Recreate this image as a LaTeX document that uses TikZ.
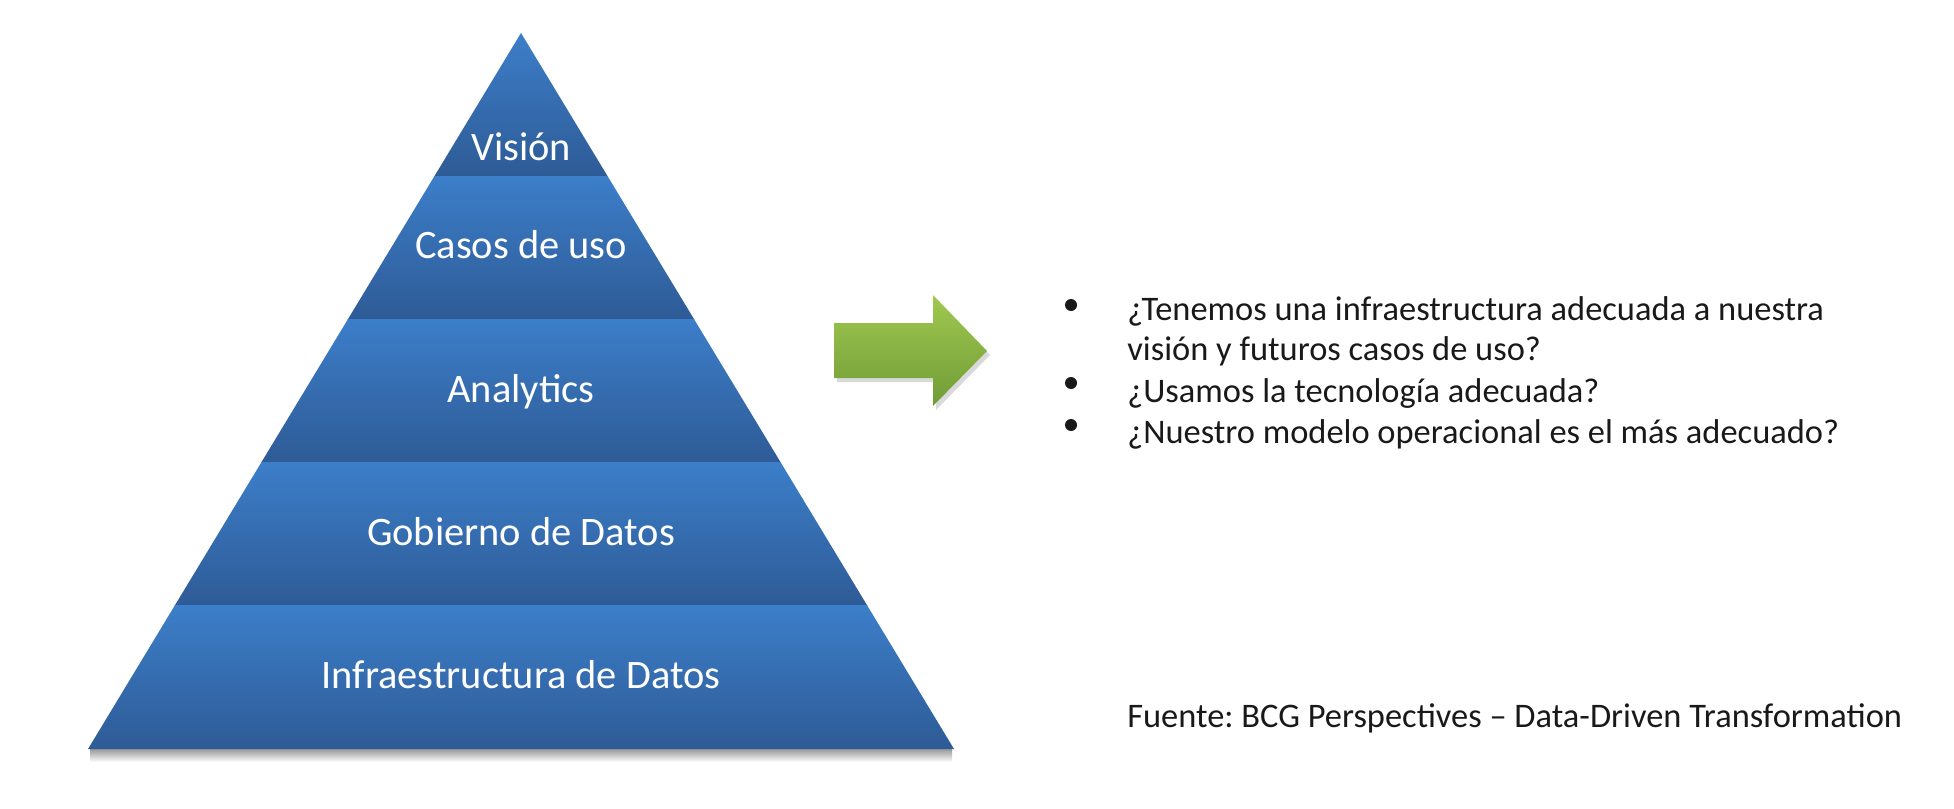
\documentclass[tikz,border=0pt]{standalone}
\usepackage{fontspec}
\setmainfont{Carlito}
\frenchspacing
\definecolor{layerTop}{RGB}{60,126,201}
\definecolor{layerBot}{RGB}{46,91,150}
\definecolor{arrowTop}{RGB}{160,200,80}
\definecolor{arrowBot}{RGB}{112,156,54}
\tikzset{
  layer/.style={text=white, font=\fontsize{23}{27}\selectfont, anchor=base, inner sep=0pt},
  question/.style={text=black!90, font=\fontsize{19.6}{23}\selectfont, anchor=base west, inner sep=0pt},
  bulletdot/.style={circle, fill=black!90, minimum size=0.24cm, inner sep=0pt},
}
\begin{document}
\begin{tikzpicture}[x=0.02cm, y=-0.02cm]
\useasboundingbox (0,0) rectangle (1954,808);

% pyramid
\coordinate (apex) at (521,33);
\coordinate (bl) at (88,749);
\coordinate (br) at (954,749);
\shade[top color=black!40, bottom color=white] (90,749) rectangle (952,762);
\begin{scope}
\clip (apex) -- (br) -- (bl) -- cycle;
\foreach \i in {0,...,4}
  \shade[top color=layerTop, bottom color=layerBot] (80,{33+143.2*\i}) rectangle (960,{33+143.2*(\i+1)});
\end{scope}

\node[layer] (vision) at (521,160) {Visión};
\node[layer] (casos) at (521,258) {Casos de uso};
\node[layer] (analytics) at (521,402) {Analytics};
\node[layer] (gobierno) at (521,545) {Gobierno de Datos};
\node[layer] (infra) at (521,688) {Infraestructura de Datos};

% arrow
\fill[black, opacity=0.15] (837,327) -- (936,327) -- (936,299) -- (990,355) -- (936,410) -- (936,382) -- (837,382) -- cycle;
\shade[top color=arrowTop, bottom color=arrowBot] (834,323) -- (933,323) -- (933,295) -- (987,351) -- (933,406) -- (933,378) -- (834,378) -- cycle;

% questions
\node[bulletdot] (b1) at (1071,305) {};
\node[question] (q1) at (1127,320) {¿Tenemos una infraestructura adecuada a nuestra};
\node[question] (q1b) at (1127,360) {visión y futuros casos de uso?};
\node[bulletdot] (b2) at (1071,383) {};
\node[question] (q2) at (1127,402) {¿Usamos la tecnología adecuada?};
\node[bulletdot] (b3) at (1071,425) {};
\node[question] (q3) at (1127,443) {¿Nuestro modelo operacional es el más adecuado?};

\node[question] (fuente) at (1127,727) {Fuente: BCG Perspectives -- Data-Driven Transformation};
\end{tikzpicture}
\end{document}
